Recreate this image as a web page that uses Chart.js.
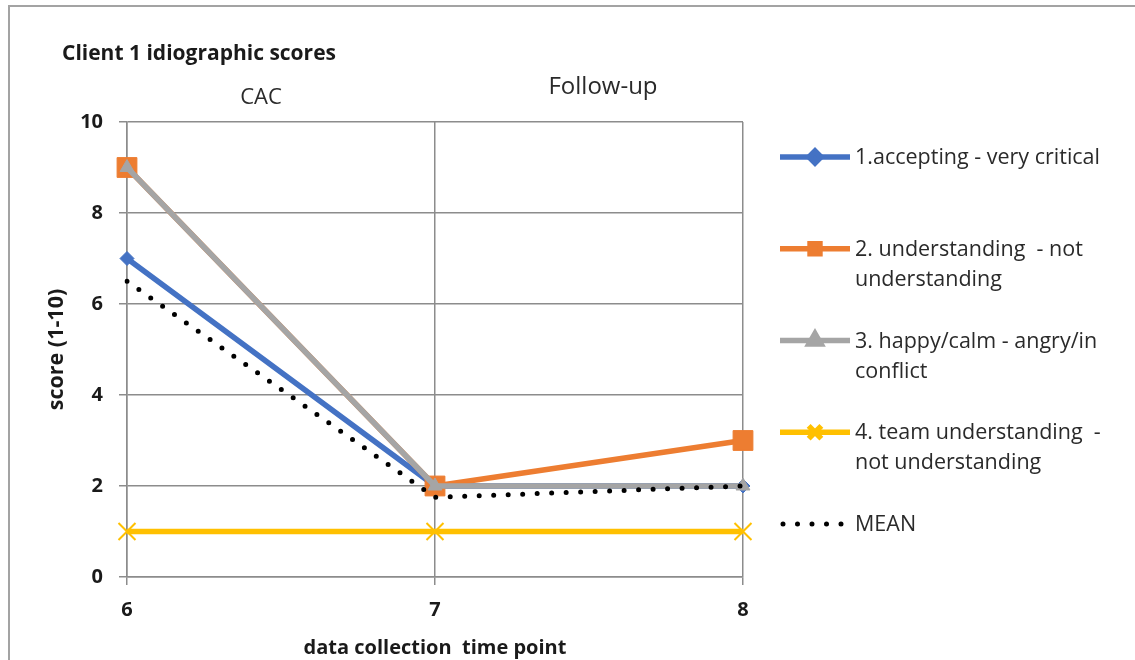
<!DOCTYPE html>
<html>
<head>
<meta charset="utf-8">
<script src="https://cdn.jsdelivr.net/npm/chart.js@4.4.0/dist/chart.umd.min.js"></script>
<style>
  html, body { margin: 0; padding: 0; background: #fff; }
  #wrap { width: 1135px; height: 660px; position: relative; }
</style>
</head>
<body>
<div id="wrap"><canvas id="c" width="1135" height="660"></canvas></div>
<script>
// Time points on the x axis
const timePoints = ['6', '7', '8'];

// Idiographic item scores (1-10) per time point
const accepting = [7, 2, 2];
const understanding = [9, 2, 3];
const happyCalm = [9, 2, 2];
const teamUnderstanding = [1, 1, 1];
const meanScore = [6.5, 1.75, 2];

// Series names and how they wrap in the legend
const seriesNames = [
  '1.accepting - very critical',
  '2. understanding  - not understanding',
  '3. happy/calm - angry/in conflict',
  '4. team understanding  - not understanding',
  'MEAN'
];
const legendLines = [
  ['1.accepting - very critical'],
  ['2. understanding  - not', 'understanding'],
  ['3. happy/calm - angry/in', 'conflict'],
  ['4. team understanding  -', 'not understanding'],
  ['MEAN']
];

const yTicks = [0, 2, 4, 6, 8, 10];
const phaseLabels = ['CAC', 'Follow-up'];
const chartTitle = 'Client 1 idiographic scores';
const xTitle = 'data collection  time point';
const yTitle = 'score (1-10)';

const FONT = "'Open Sans', 'Noto Sans', sans-serif";
const GRID = '#8c8c8c';

// Outer frame, chart title and phase headings
const decorPlugin = {
  id: 'decor',
  beforeDraw(chart) {
    const ctx = chart.ctx;
    ctx.save();
    ctx.fillStyle = '#fff';
    ctx.fillRect(0, 0, chart.width, chart.height);
    ctx.strokeStyle = '#a3a3a3';
    ctx.lineWidth = 2;
    ctx.beginPath();
    ctx.moveTo(9, chart.height);
    ctx.lineTo(9, 6);
    ctx.lineTo(chart.width, 6);
    ctx.stroke();
    ctx.restore();
  },
  afterDraw(chart) {
    const ctx = chart.ctx;
    ctx.save();
    ctx.fillStyle = '#1a1a1a';
    ctx.textBaseline = 'middle';
    ctx.font = 'bold 21px ' + FONT;
    ctx.textAlign = 'left';
    ctx.fillText(chartTitle, 62, 54);
    ctx.fillStyle = '#2a2a2a';
    ctx.textAlign = 'center';
    ctx.font = '22px ' + FONT;
    ctx.fillText(phaseLabels[0], 261, 98);
    ctx.font = '24px ' + FONT;
    ctx.fillText(phaseLabels[1], 603, 87);
    ctx.restore();
  }
};

// Legend on the right, with wrapped labels
const sideLegendPlugin = {
  id: 'sideLegend',
  afterDraw(chart) {
    const ctx = chart.ctx;
    const x0 = 780, x1 = 850, textX = 855;
    chart.data.datasets.forEach((ds, i) => {
      const y = 157 + i * 91.75;
      ctx.save();
      ctx.strokeStyle = ds.borderColor;
      ctx.lineWidth = ds.borderWidth;
      ctx.lineCap = ds.borderCapStyle || 'butt';
      ctx.setLineDash(ds.borderDash || []);
      ctx.beginPath();
      if (ds.borderDash && ds.borderDash.length) {
        ctx.moveTo(x0 + 3, y);
        ctx.lineTo(x1, y);
      } else {
        ctx.moveTo(x0, y);
        ctx.lineTo(x1, y);
      }
      ctx.stroke();
      ctx.setLineDash([]);
      if (ds.pointRadius > 0) {
        ctx.fillStyle = ds.pointBackgroundColor;
        ctx.strokeStyle = ds.pointBorderColor;
        Chart.helpers.drawPoint(ctx, {
          pointStyle: ds.pointStyle,
          radius: ds.legendRadius,
          borderWidth: ds.pointBorderWidth,
          rotation: 0
        }, (x0 + x1) / 2, y);
      }
      ctx.fillStyle = '#2a2a2a';
      ctx.font = '21.5px ' + FONT;
      ctx.textAlign = 'left';
      ctx.textBaseline = 'middle';
      legendLines[i].forEach((line, k) => ctx.fillText(line, textX, y + 1 + k * 30));
      ctx.restore();
    });
  }
};

const tickFont = { family: FONT, size: 20, weight: 'bold' };

new Chart(document.getElementById('c'), {
  type: 'line',
  data: {
    labels: timePoints,
    datasets: [
      {
        label: seriesNames[0], data: accepting, order: 5,
        borderColor: '#4472C4', borderWidth: 5.5, borderJoinStyle: 'round',
        pointStyle: 'rectRot', pointRadius: 7, legendRadius: 6,
        pointBackgroundColor: '#4472C4', pointBorderColor: '#4472C4', pointBorderWidth: 1
      },
      {
        label: seriesNames[1], data: understanding, order: 4,
        borderColor: '#ED7D31', borderWidth: 5.5, borderJoinStyle: 'round',
        pointStyle: 'rect', pointRadius: 14, legendRadius: 7,
        pointBackgroundColor: '#ED7D31', pointBorderColor: '#ED7D31', pointBorderWidth: 1
      },
      {
        label: seriesNames[2], data: happyCalm, order: 3,
        borderColor: '#A5A5A5', borderWidth: 5.5, borderJoinStyle: 'round',
        pointStyle: 'triangle', pointRadius: 8, legendRadius: 7,
        pointBackgroundColor: '#A5A5A5', pointBorderColor: '#A5A5A5', pointBorderWidth: 1
      },
      {
        label: seriesNames[3], data: teamUnderstanding, order: 2,
        borderColor: '#FFC000', borderWidth: 5.5, borderJoinStyle: 'round',
        pointStyle: 'crossRot', pointRadius: 12, legendRadius: 9,
        pointBackgroundColor: '#FFC000', pointBorderColor: '#FFC000', pointBorderWidth: 2
      },
      {
        label: seriesNames[4], data: meanScore, order: 1,
        borderColor: '#000000', borderWidth: 5, borderDash: [0, 14.5], borderCapStyle: 'round',
        pointRadius: 0, legendRadius: 0
      }
    ]
  },
  options: {
    responsive: false,
    animation: false,
    events: [],
    layout: { padding: { left: 37, top: 122, right: 392, bottom: 0 } },
    plugins: {
      legend: { display: false },
      tooltip: { enabled: false },
      title: { display: false }
    },
    scales: {
      x: {
        type: 'category',
        offset: false,
        grid: { color: GRID, lineWidth: 1.5, tickLength: 8, drawTicks: true },
        border: { color: GRID, width: 1.5 },
        ticks: { font: tickFont, color: '#1a1a1a', padding: 13, maxRotation: 0 },
        title: { display: true, text: xTitle, font: { family: FONT, size: 20, weight: 'bold' }, color: '#1a1a1a', padding: { top: 0, bottom: 0 } },
        afterFit: s => { s.height = 83; }
      },
      y: {
        min: 0, max: 10,
        grid: { color: GRID, lineWidth: 1.5, tickLength: 8, drawTicks: true },
        border: { color: GRID, width: 1.5 },
        ticks: { font: tickFont, color: '#1a1a1a', padding: 16 },
        afterBuildTicks: s => { s.ticks = yTicks.map(v => ({ value: v })); },
        title: { display: true, text: yTitle, font: { family: FONT, size: 21.5, weight: 'bold' }, color: '#1a1a1a', padding: { top: 7, bottom: 0 } },
        afterFit: s => { s.width = 90; }
      }
    }
  },
  plugins: [decorPlugin, sideLegendPlugin]
});
</script>
</body>
</html>
